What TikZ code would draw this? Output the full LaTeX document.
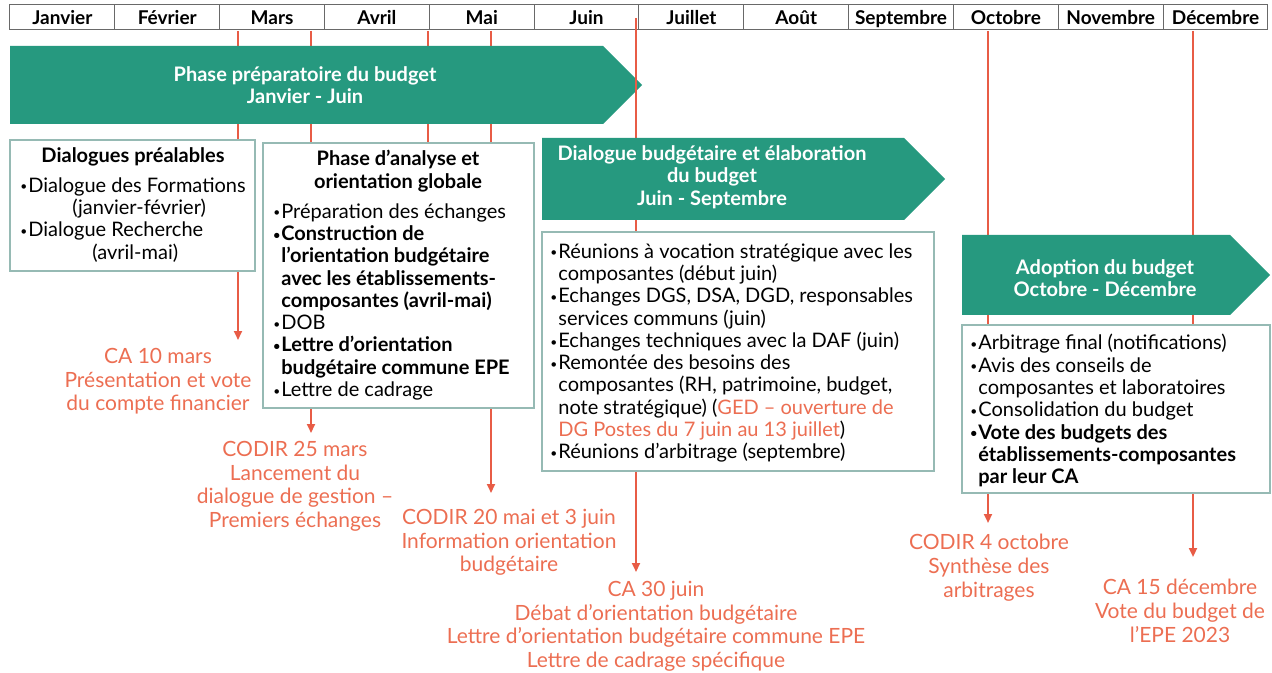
\documentclass[tikz,border=0pt]{standalone}
\usepackage{fontspec}
\usepackage{graphicx}
\setmainfont{Lato}
\usetikzlibrary{arrows.meta,fit}

\definecolor{vertphase}{RGB}{38,153,127}
\definecolor{orangejalon}{RGB}{236,110,82}
\definecolor{rougetrait}{RGB}{232,92,70}
\definecolor{bordcadre}{RGB}{150,186,180}
\definecolor{bordmois}{RGB}{105,105,105}

\newcommand{\pc}{\raisebox{0.12ex}{\scalebox{0.6}{•}}\hspace{0.5pt}}
\newcommand{\suite}{\hphantom{\pc}}

\tikzset{
  mois/.style={draw=bordmois, line width=0.5pt, minimum width=52.42pt, minimum height=12.5pt, inner sep=0pt, text height=8.5pt, text depth=1.5pt, font=\bfseries\fontsize{9.5}{11}\selectfont},
  phase/.style={text=white, align=center, inner sep=0pt, font=\bfseries\fontsize{10}{11.2}\selectfont},
  cadre/.style={draw=bordcadre, line width=0.6pt, fill=white, inner sep=0pt},
  titre/.style={align=center, inner sep=0pt, font=\bfseries\fontsize{10}{11.2}\selectfont},
  liste/.style={align=left, anchor=north west, inner sep=0pt, font=\fontsize{10}{11.15}\selectfont},
  jalon/.style={text=orangejalon, align=center, anchor=north, inner sep=0pt, font=\fontsize{10.5}{11.8}\selectfont},
  trait/.style={draw=rougetrait, line width=1pt},
  fleche/.style={trait, -{Triangle[width=4pt,length=4.5pt]}},
}

\begin{document}
\begin{tikzpicture}[x=0.5pt, y=-0.5pt]
\useasboundingbox (0,0) rectangle (1272,673);

% Month row
\foreach \m [count=\i] in {Janvier,Février,Mars,Avril,Mai,Juin,Juillet,Août,Septembre,Octobre,Novembre,Décembre}
  \node[mois] (m\i) at ({10+104.83*(\i-0.5)},17.5) {\m};

% Milestone lines (behind the phases)
\coordinate (h1) at (238,31);  \coordinate (f1) at (238,340);
\coordinate (h2) at (311,31);  \coordinate (f2) at (311,433);
\coordinate (h3) at (428,31);  \coordinate (f3) at (428,160);
\coordinate (h4) at (491,31);  \coordinate (f4) at (491,493);
\coordinate (h5) at (636,18);  \coordinate (f5) at (636,572);
\coordinate (h6) at (988,31);  \coordinate (f6) at (988,523);
\coordinate (h7) at (1193,31); \coordinate (f7) at (1193,557);
\draw[fleche] (h1) -- (f1);
\draw[fleche] (h2) -- (f2);
\draw[trait] (h3) -- (f3);
\draw[fleche] (h4) -- (f4);
\draw[fleche] (h6) -- (f6);
\draw[fleche] (h7) -- (f7);

% Phase 1
\fill[vertphase] (10,46) -- (603,46) -- (642,85) -- (603,124) -- (10,124) -- cycle;
\node[phase] (p1) at (305,85) {Phase préparatoire du budget\\Janvier - Juin};
\draw[fleche] (h5) -- (f5);

% Dialogues préalables
\node[cadre, fit={(10,140) (255,271)}] (b1) {};
\node[titre] (t1) at (133,157) {Dialogues préalables};
\node[liste] (l1) at (20,177) {\pc Dialogue des Formations\\
  \hspace*{26pt}(janvier-février)\\
  \pc Dialogue Recherche\\
  \hspace*{36pt}(avril-mai)};

% Phase d'analyse
\node[cadre, fit={(263,143) (534,408)}] (b2) {};
\node[titre] (t2) at (398,171) {Phase d’analyse et\\orientation globale};
\node[liste] (l2) at (273,203) {\pc Préparation des échanges\\
  \textbf{\pc Construction de}\\
  \textbf{\suite l’orientation budgétaire}\\
  \textbf{\suite avec les établissements-}\\
  \textbf{\suite composantes (avril-mai)}\\
  \pc DOB\\
  \textbf{\pc Lettre d’orientation}\\
  \textbf{\suite budgétaire commune EPE}\\
  \pc Lettre de cadrage};

% Phase 2
\fill[vertphase] (542,138) -- (904,138) -- (945,179) -- (904,220) -- (542,220) -- cycle;
\node[phase] (p2) at (712,177) {Dialogue budgétaire et élaboration\\du budget\\Juin - Septembre};
\node[cadre, fit={(542,232) (934,471)}] (b3) {};
\node[liste] (l3) at (550,243) {\pc Réunions à vocation stratégique avec les\\
  \suite composantes (début juin)\\
  \pc Echanges DGS, DSA, DGD, responsables\\
  \suite services communs (juin)\\
  \pc Echanges techniques avec la DAF (juin)\\
  \pc Remontée des besoins des\\
  \suite composantes (RH, patrimoine, budget,\\
  \suite note stratégique) ({\color{orangejalon}GED – ouverture de}\\
  \suite {\color{orangejalon}DG Postes du 7 juin au 13 juillet})\\
  \pc Réunions d’arbitrage (septembre)};

% Phase 3
\fill[vertphase] (962,235) -- (1230,235) -- (1270,275) -- (1230,315) -- (962,315) -- cycle;
\node[phase] (p3) at (1105,278) {Adoption du budget\\Octobre - Décembre};
\node[cadre, fit={(962,325) (1270,493)}] (b4) {};
\node[liste] (l4) at (970,334) {\pc Arbitrage final (notifications)\\
  \pc Avis des conseils de\\
  \suite composantes et laboratoires\\
  \pc Consolidation du budget\\
  \textbf{\pc Vote des budgets des}\\
  \textbf{\suite établissements-composantes}\\
  \textbf{\suite par leur CA}};

% Milestones
\node[jalon] (j1) at (158,348) {CA 10 mars\\Présentation et vote\\du compte financier};
\node[jalon] (j2) at (295,441) {CODIR 25 mars\\Lancement du\\dialogue de gestion –\\Premiers échanges};
\node[jalon] (j3) at (509,509) {CODIR 20 mai et 3 juin\\Information orientation\\budgétaire};
\node[jalon] (j4) at (656,581) {CA 30 juin\\Débat d’orientation budgétaire\\Lettre d’orientation budgétaire commune EPE\\Lettre de cadrage spécifique};
\node[jalon] (j5) at (989,534) {CODIR 4 octobre\\Synthèse des\\arbitrages};
\node[jalon] (j6) at (1180,579) {CA 15 décembre\\Vote du budget de\\l’EPE 2023};

\end{tikzpicture}
\end{document}
